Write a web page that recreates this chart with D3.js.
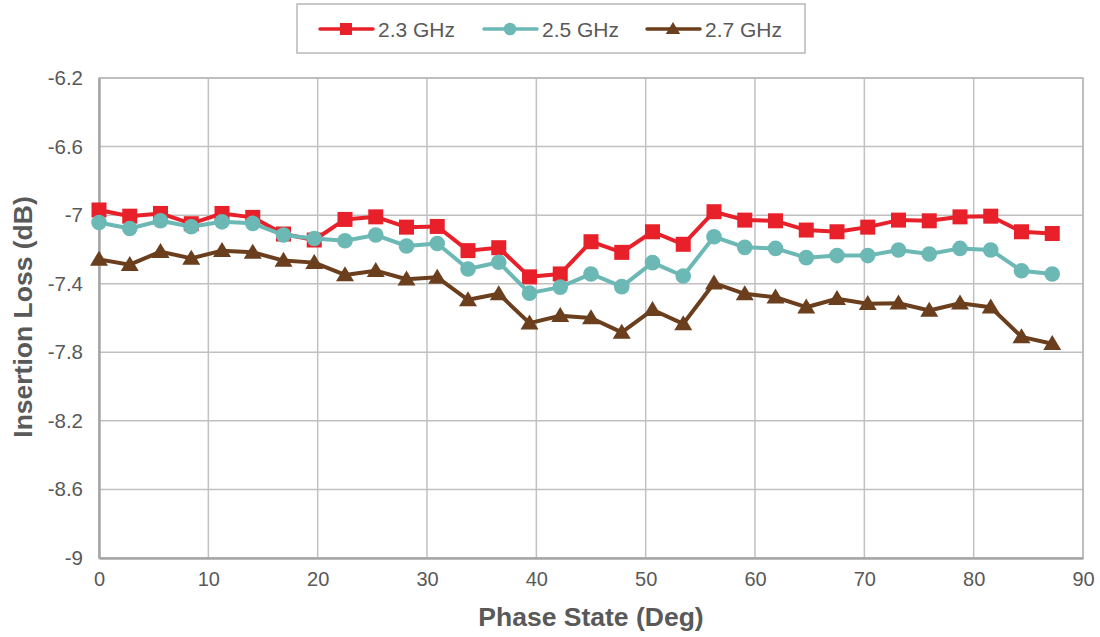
<!DOCTYPE html>
<html>
<head>
<meta charset="utf-8">
<script src="https://cdn.jsdelivr.net/npm/d3@7"></script>
<style>
  html, body { margin: 0; padding: 0; background: #fff; }
  svg { display: block; font-family: "Liberation Sans", Arial, sans-serif; }
</style>
</head>
<body>
<svg id="chart" width="1100" height="637"></svg>
<script>
const phaseStates = [0, 2.8125, 5.625, 8.4375, 11.25, 14.0625, 16.875, 19.6875,
  22.5, 25.3125, 28.125, 30.9375, 33.75, 36.5625, 39.375, 42.1875,
  45, 47.8125, 50.625, 53.4375, 56.25, 59.0625, 61.875, 64.6875,
  67.5, 70.3125, 73.125, 75.9375, 78.75, 81.5625, 84.375, 87.1875];

const loss23 = [-6.97, -7.006, -6.99, -7.05, -6.99, -7.013, -7.11, -7.145,
  -7.025, -7.01, -7.07, -7.066, -7.207, -7.19, -7.36, -7.343,
  -7.155, -7.217, -7.097, -7.17, -6.98, -7.029, -7.033, -7.087,
  -7.097, -7.07, -7.029, -7.033, -7.01, -7.006, -7.097, -7.107];

const loss25 = [-7.043, -7.078, -7.033, -7.068, -7.039, -7.048, -7.116, -7.136,
  -7.149, -7.116, -7.18, -7.165, -7.314, -7.275, -7.455, -7.42,
  -7.343, -7.417, -7.277, -7.355, -7.126, -7.188, -7.194, -7.248,
  -7.236, -7.236, -7.203, -7.227, -7.194, -7.203, -7.324, -7.343];

const loss27 = [-7.258, -7.289, -7.213, -7.252, -7.207, -7.217, -7.265, -7.277,
  -7.349, -7.324, -7.374, -7.363, -7.494, -7.459, -7.63, -7.587,
  -7.6, -7.684, -7.552, -7.634, -7.397, -7.459, -7.479, -7.537,
  -7.488, -7.517, -7.514, -7.556, -7.514, -7.537, -7.71, -7.75];

const seriesNames = ["2.3 GHz", "2.5 GHz", "2.7 GHz"];
const seriesColors = ["#e8202a", "#6cb8b5", "#6b3f1d"];
const seriesShapes = ["square", "circle", "triangle"];
const xTicks = [0, 10, 20, 30, 40, 50, 60, 70, 80, 90];
const yTicks = [-6.2, -6.6, -7, -7.4, -7.8, -8.2, -8.6, -9];
const xTitle = "Phase State (Deg)";
const yTitle = "Insertion Loss (dB)";

(function () {
const svg = d3.select("#chart");
const pL = 99, pR = 1083, pT = 78, pB = 558;
const textColor = "#595959";

const x = d3.scaleLinear().domain([0, 90]).range([pL, pR]);
const y = d3.scaleLinear().domain([-9, -6.2]).range([pB, pT]);

// gridlines
const grid = svg.append("g");
grid.selectAll("line.h").data(yTicks).join("line").attr("class", "h")
  .attr("x1", pL).attr("x2", pR)
  .attr("y1", d => y(d)).attr("y2", d => y(d))
  .attr("stroke", "#c0c0c0").attr("stroke-width", 1.5);
grid.selectAll("line.v").data(xTicks).join("line").attr("class", "v")
  .attr("y1", pT).attr("y2", pB)
  .attr("x1", d => x(d)).attr("x2", d => x(d))
  .attr("stroke", "#c0c0c0").attr("stroke-width", 1.5);

// frame
svg.append("rect").attr("x", pL).attr("y", pT)
  .attr("width", pR - pL).attr("height", pB - pT)
  .attr("fill", "none").attr("stroke", "#b8b8b8").attr("stroke-width", 1.5);

// axes
const xAxis = d3.axisBottom(x).tickValues(xTicks).tickSize(0).tickPadding(14).tickFormat(d3.format("d"));
const gx = svg.append("g").attr("transform", `translate(0,${pB})`).call(xAxis);
gx.select(".domain").attr("stroke", "#a6a6a6").attr("stroke-width", 2.5);
gx.selectAll("text").attr("fill", textColor).attr("font-size", 20)
  .attr("font-family", "Liberation Sans, Arial, sans-serif");

const yAxis = d3.axisLeft(y).tickValues(yTicks).tickSize(0).tickPadding(16).tickFormat(d => String(d));
const gy = svg.append("g").attr("transform", `translate(${pL},0)`).call(yAxis);
gy.select(".domain").attr("stroke", "#a6a6a6").attr("stroke-width", 2.5);
gy.selectAll("text").attr("fill", textColor).attr("font-size", 20.5)
  .attr("font-family", "Liberation Sans, Arial, sans-serif");

// titles
svg.append("text").attr("x", (pL + pR) / 2).attr("y", 626)
  .attr("text-anchor", "middle").attr("font-size", 26.5).attr("font-weight", "bold")
  .attr("fill", textColor).text(xTitle);
svg.append("text").attr("transform", `translate(32,317) rotate(-90)`)
  .attr("text-anchor", "middle").attr("font-size", 26.5).attr("font-weight", "bold")
  .attr("fill", textColor).text(yTitle);

// series
const allData = [loss23, loss25, loss27];
const line = d3.line().x((d, i) => x(phaseStates[i])).y(d => y(d));

function drawMarker(g, shape, color, size) {
  if (shape === "square") {
    g.append("rect").attr("x", -size / 2).attr("y", -size / 2)
      .attr("width", size).attr("height", size).attr("fill", color);
  } else if (shape === "circle") {
    g.append("circle").attr("r", size / 2 + 0.3).attr("fill", color);
  } else {
    const s = size * 1.2;
    const h = size;
    g.append("path").attr("d", `M0,${-h * 0.58}L${s / 2},${h * 0.42}L${-s / 2},${h * 0.42}Z`).attr("fill", color);
  }
}

allData.forEach((vals, si) => {
  const g = svg.append("g");
  g.append("path").datum(vals).attr("d", line)
    .attr("fill", "none").attr("stroke", seriesColors[si]).attr("stroke-width", 4)
    .attr("stroke-linejoin", "round");
  vals.forEach((v, i) => {
    const m = g.append("g").attr("transform", `translate(${x(phaseStates[i])},${y(v)})`);
    drawMarker(m, seriesShapes[si], seriesColors[si], 15);
  });
});

// legend
const lg = svg.append("g");
lg.append("rect").attr("x", 297).attr("y", 4).attr("width", 508).attr("height", 49)
  .attr("fill", "#fff").attr("stroke", "#b8b8b8").attr("stroke-width", 1.5);
const legendX = [320, 484, 647];
seriesNames.forEach((name, i) => {
  const gx0 = legendX[i];
  lg.append("line").attr("x1", gx0).attr("x2", gx0 + 53).attr("y1", 29).attr("y2", 29)
    .attr("stroke", seriesColors[i]).attr("stroke-width", 3.5).attr("stroke-linecap", "round");
  const m = lg.append("g").attr("transform", `translate(${gx0 + 26},29)`);
  drawMarker(m, seriesShapes[i], seriesColors[i], 12);
  lg.append("text").attr("x", gx0 + 58).attr("y", 36.5).attr("font-size", 21)
    .attr("fill", textColor).text(name);
});
})();
</script>
</body>
</html>
